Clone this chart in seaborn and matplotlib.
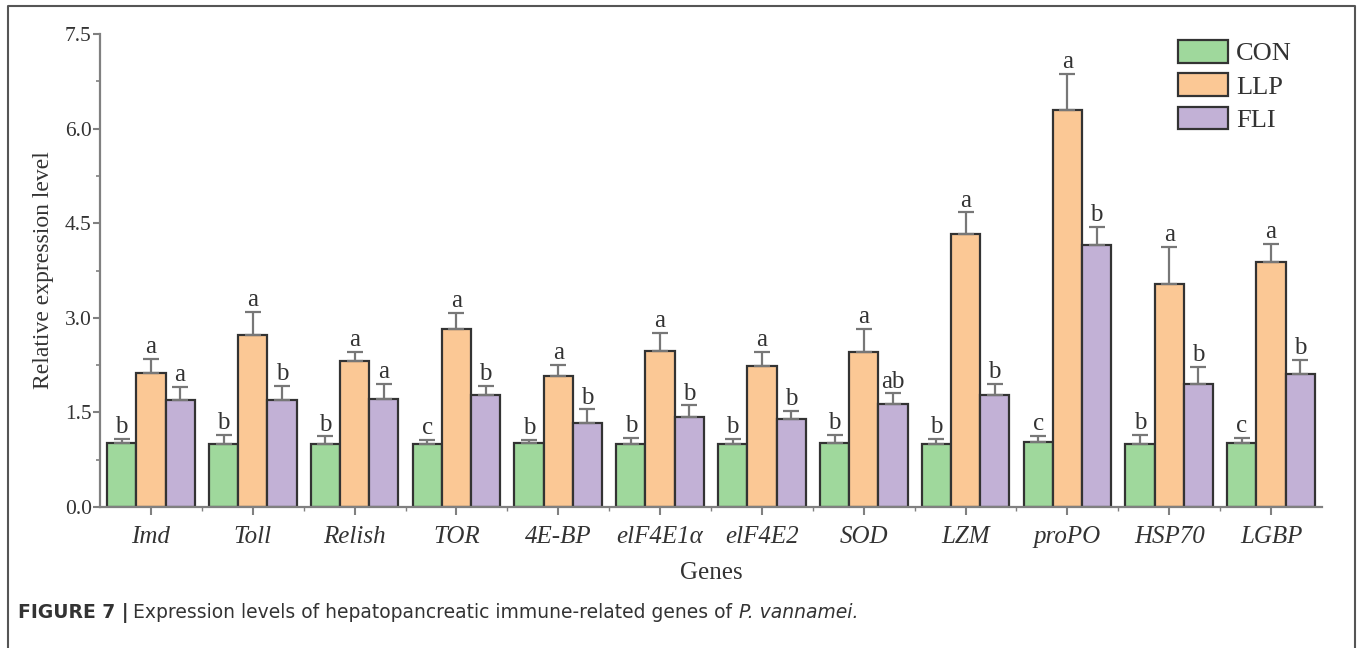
import matplotlib
matplotlib.use('Agg')
import matplotlib.pyplot as plt
import seaborn as sns
import pandas as pd
from matplotlib.lines import Line2D

genes = ['Imd', 'Toll', 'Relish', 'TOR', '4E-BP', 'elF4E1α', 'elF4E2', 'SOD',
         'LZM', 'proPO', 'HSP70', 'LGBP']
groups = ['CON', 'LLP', 'FLI']

con = [1.01, 1.00, 1.00, 1.00, 1.01, 1.00, 1.00, 1.02, 1.00, 1.03, 1.00, 1.01]
llp = [2.12, 2.73, 2.31, 2.82, 2.07, 2.48, 2.24, 2.46, 4.33, 6.29, 3.53, 3.88]
fli = [1.70, 1.70, 1.72, 1.77, 1.33, 1.42, 1.39, 1.63, 1.77, 4.15, 1.95, 2.11]

con_err = [0.07, 0.14, 0.12, 0.06, 0.06, 0.10, 0.08, 0.12, 0.08, 0.10, 0.14, 0.09]
llp_err = [0.23, 0.36, 0.15, 0.26, 0.18, 0.28, 0.22, 0.37, 0.34, 0.58, 0.59, 0.29]
fli_err = [0.20, 0.22, 0.23, 0.15, 0.22, 0.19, 0.14, 0.17, 0.18, 0.29, 0.27, 0.22]

con_sig = ['b', 'b', 'b', 'c', 'b', 'b', 'b', 'b', 'b', 'c', 'b', 'c']
llp_sig = ['a'] * 12
fli_sig = ['a', 'b', 'a', 'b', 'b', 'b', 'b', 'ab', 'b', 'b', 'b', 'b']

colors = ['#9fd89c', '#fbc895', '#c2b1d6']

df = pd.DataFrame({
    'gene': genes * 3,
    'group': [g for g in groups for _ in genes],
    'value': con + llp + fli,
})
errs = con_err + llp_err + fli_err
sigs = con_sig + llp_sig + fli_sig

sns.set_style('white')
plt.rcParams['font.family'] = ['Liberation Serif', 'DejaVu Serif']

fig = plt.figure(figsize=(13.57, 6.48), dpi=100)
ax = fig.add_axes([100 / 1357, 1 - 507 / 648, 1222 / 1357, 473 / 648])

sns.barplot(data=df, x='gene', y='value', hue='group', order=genes, hue_order=groups,
            palette=colors, width=0.86, errorbar=None, edgecolor='#333333',
            linewidth=1.6, saturation=1, ax=ax)

# error bars and letters, one per bar
bars = [p for c in ax.containers for p in c]
for p, e, s in zip(bars, errs, sigs):
    x = p.get_x() + p.get_width() / 2
    h = p.get_height()
    ax.errorbar(x, h, yerr=[[0], [e]], fmt='none', ecolor='#777777',
                elinewidth=1.6, capsize=6, capthick=1.6, zorder=1)
    ax.annotate(s, (x, h + e), xytext=(0, 0.5), textcoords='offset points',
                ha='center', va='bottom', fontsize=18, color='#333333')

ax.set_xlim(-0.5, 11.5)
ax.set_ylim(0, 7.5)
ax.set_yticks([0, 1.5, 3.0, 4.5, 6.0, 7.5])
ax.set_yticklabels(['0.0', '1.5', '3.0', '4.5', '6.0', '7.5'])
ax.set_yticks([0.75, 2.25, 3.75, 5.25, 6.75], minor=True)
ax.set_xticks([i + 0.5 for i in range(11)], minor=True)
ax.set_xticklabels(genes, fontstyle='italic', fontsize=18, color='#333333')
ax.tick_params(axis='y', labelsize=15.5, labelcolor='#333333', direction='out',
               length=5, width=1.5, color='#808080', left=True, pad=1)
ax.tick_params(axis='y', which='minor', length=3, width=1.2, color='#808080', left=True)
ax.tick_params(axis='x', direction='out', length=6, width=1.5, color='#808080',
               bottom=True, pad=8)
ax.tick_params(axis='x', which='minor', length=3, width=1.0, color='#808080', bottom=True)

for side in ['top', 'right']:
    ax.spines[side].set_visible(False)
for side in ['left', 'bottom']:
    ax.spines[side].set_color('#808080')
    ax.spines[side].set_linewidth(1.6)

ax.set_xlabel('Genes', fontsize=18, color='#333333', labelpad=10)
ax.set_ylabel('Relative expression level', fontsize=17, color='#333333', labelpad=8)

ax.legend(title=None, frameon=False, fontsize=19, loc='upper left',
          bbox_to_anchor=(1178 / 1357, 1 - 40 / 648), bbox_transform=fig.transFigure,
          handlelength=1.9, handleheight=0.95, labelspacing=0.3, handletextpad=0.3,
          borderaxespad=0, borderpad=0)
for t in ax.get_legend().get_texts():
    t.set_color('#333333')

# outer frame, open at the bottom
W, H = 1357, 648
fig.add_artist(Line2D([8 / W, 8 / W, 1355 / W, 1355 / W],
                      [0, 1 - 6 / H, 1 - 6 / H, 0],
                      transform=fig.transFigure, color='#555555', lw=1.5))

# caption
fig.canvas.draw()
r = fig.canvas.get_renderer()
cy = 1 - 613 / H
cap_font = ['DejaVu Sans']
t1 = fig.text(18 / W, cy, 'FIGURE 7 |', fontsize=13.5, fontweight='bold',
              family=cap_font, color='#333333', va='center')
bb = t1.get_window_extent(r)
t2 = fig.text(bb.x1 / W + 4 / W, cy,
              'Expression levels of hepatopancreatic immune-related genes of',
              fontsize=13.5, family=cap_font, color='#333333', va='center')
bb = t2.get_window_extent(r)
fig.text(bb.x1 / W + 7 / W, cy, 'P. vannamei.', fontsize=13.5, fontstyle='italic',
         family=cap_font, color='#333333', va='center')

fig.savefig('out.png', dpi=100)
